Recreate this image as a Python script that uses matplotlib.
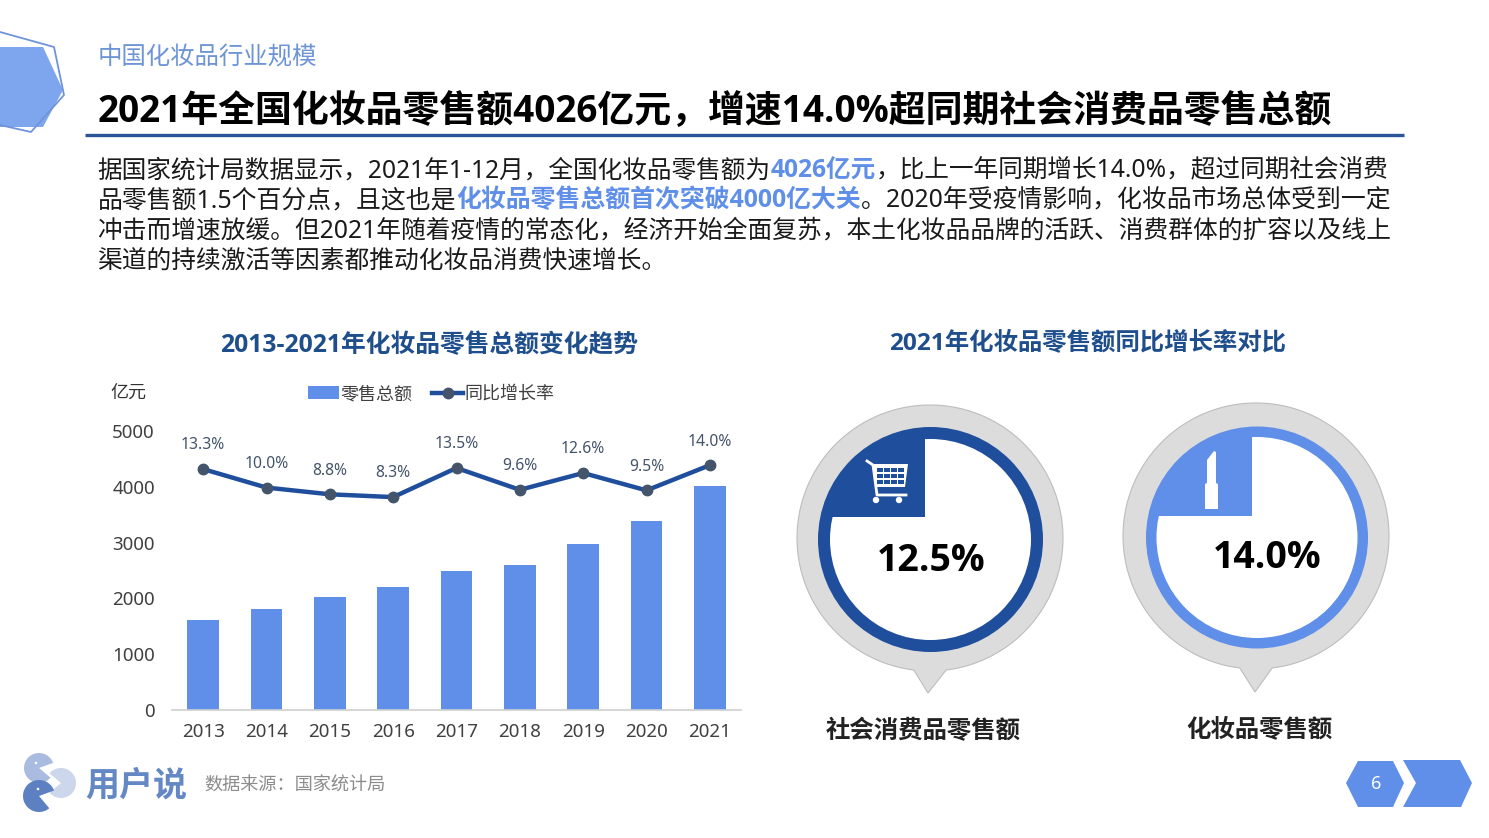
import numpy as np
import matplotlib
matplotlib.use("Agg")
import matplotlib.pyplot as plt
from matplotlib.patches import Circle, Polygon, Rectangle, Wedge
from matplotlib.lines import Line2D

REG = ['Noto Sans', 'Noto Sans CJK SC', 'DejaVu Sans']
BOLD = ['Open Sans', 'Noto Sans CJK SC', 'DejaVu Sans']
plt.rcParams['font.family'] = REG

years = ['2013', '2014', '2015', '2016', '2017', '2018', '2019', '2020', '2021']
sales = [1610, 1810, 2025, 2205, 2495, 2600, 2975, 3380, 4015]
growth = [13.3, 10.0, 8.8, 8.3, 13.5, 9.6, 12.6, 9.5, 14.0]
yticks = [0, 1000, 2000, 3000, 4000, 5000]

section = '中国化妆品行业规模'
headline = '2021年全国化妆品零售额4026亿元，增速14.0%超同期社会消费品零售总额'
body = [
    [('据国家统计局数据显示，2021年1-12月，全国化妆品零售额为', 0), ('4026亿元', 1),
     ('，比上一年同期增长14.0%，超过同期社会消费', 0)],
    [('品零售额1.5个百分点，且这也是', 0), ('化妆品零售总额首次突破4000亿大关', 1),
     ('。2020年受疫情影响，化妆品市场总体受到一定', 0)],
    [('冲击而增速放缓。但2021年随着疫情的常态化，经济开始全面复苏，本土化妆品品牌的活跃、消费群体的扩容以及线上', 0)],
    [('渠道的持续激活等因素都推动化妆品消费快速增长。', 0)],
]
body_sizes = [17.76, 17.9, 17.8, 17.8]

BAR = '#5f8fe8'
NAVY = '#1f4e9c'
SLATE = '#44546a'
GREY = '#dcdcdc'

W, H = 1489, 838
fig = plt.figure(figsize=(W / 100, H / 100), dpi=100, facecolor='white')

# full-page layer in pixel coordinates for everything that is not the chart
bg = fig.add_axes([0, 0, 1, 1])
bg.set_xlim(0, W)
bg.set_ylim(H, 0)
bg.axis('off')

def pin_shape(cx, cy, r, tip_x, tip_y):
    # circle with a small pointer at the bottom
    a = np.radians(np.linspace(97, 443, 200))
    pts = [(cx + r * np.cos(t), cy + r * np.sin(t)) for t in a]
    pts.append((tip_x, tip_y))
    return Polygon(pts, closed=True, fc=GREY, ec='#bdbdbd', lw=0.8)

def gauge(cx, cy, r_out, r_in, qx, qy, col):
    bg.add_patch(Circle((cx, cy), r_out, fc=col, ec='none'))
    bg.add_patch(Circle((cx, cy), r_in, fc='white', ec='none'))
    clip = Circle((cx, cy), r_in + 1, transform=bg.transData)
    q = Rectangle((cx - r_in - 2, cy - r_in - 2), qx - cx + r_in + 2, qy - cy + r_in + 2, fc=col, ec='none')
    bg.add_patch(q)
    q.set_clip_path(clip)

def draw_runs(runs, x, y, size):
    r = fig.canvas.get_renderer()
    for s, hi in runs:
        t = bg.text(x, y, s, fontsize=size, va='center', ha='left',
                    color=BAR if hi else '#1a1a1a',
                    family=BOLD if hi else REG, fontweight='bold' if hi else 'normal')
        x += t.get_window_extent(r).width

# corner hexagons
bg.add_patch(Polygon([(0, 47), (43, 47), (63, 90), (43, 127), (0, 127)], fc='#7ea6ee', ec='none'))
bg.plot([0, 54, 64, 31, 0], [32, 47, 95, 132, 125], color='#6f94d8', lw=1.3)

# header
bg.text(97.5, 58, section, fontsize=17.6, color='#6c94d6', va='center')
bg.text(97.5, 112, headline, fontsize=26.6, color='black', family=BOLD, fontweight='bold', va='center')
bg.plot([85, 1404], [135, 135], color='#2a5599', lw=2.4, solid_capstyle='butt')
for i, runs in enumerate(body):
    draw_runs(runs, 97.5, 171 + i * 30, body_sizes[i])

# chart titles
bg.text(429, 346, '2013-2021年化妆品零售总额变化趋势', fontsize=17.85, color='#1f4e8c', family=BOLD, fontweight='bold', ha='center', va='center')
bg.text(1088, 343, '2021年化妆品零售额同比增长率对比', fontsize=17.6, color='#1f4e8c', family=BOLD, fontweight='bold', ha='center', va='center')
bg.text(128, 393, '亿元', fontsize=13, color='#333333', ha='center', va='center')

# left gauge
bg.add_patch(pin_shape(930, 538, 133, 928, 693))
gauge(930.5, 539.5, 112.5, 100.5, 925, 517, NAVY)
bg.text(931, 561, '12.5%', fontsize=27, family=BOLD, fontweight='bold', color='black', ha='center', va='center')
bg.text(923, 732, '社会消费品零售额', fontsize=17.6, family=BOLD, fontweight='bold', color='#222222', ha='center', va='center')

# cart icon
bg.plot([867, 873, 877, 906], [461, 465, 495, 495], color='white', lw=2)
bg.add_patch(Polygon([(873, 464), (908, 464), (905, 487), (876, 487)], fc='white', ec='none'))
for gx in [877, 884, 891, 898]:
    for gy in [468, 474, 480]:
        bg.add_patch(Rectangle((gx, gy), 5.5, 4, fc=NAVY, ec='none'))
bg.add_patch(Circle((876, 500), 3.2, fc='white', ec='none'))
bg.add_patch(Circle((899, 500), 3.2, fc='white', ec='none'))

# right gauge
bg.add_patch(pin_shape(1256, 536, 133, 1255, 692))
gauge(1257, 537.5, 111, 100.5, 1252, 516, BAR)
bg.text(1267, 558, '14.0%', fontsize=27, family=BOLD, fontweight='bold', color='black', ha='center', va='center')
bg.text(1259, 730, '化妆品零售额', fontsize=17.6, family=BOLD, fontweight='bold', color='#222222', ha='center', va='center')

# lipstick icon
bg.add_patch(Polygon([(1207, 460), (1214, 451), (1216, 452), (1216, 483), (1218, 484), (1218, 509),
                      (1205, 509), (1205, 484), (1207, 483)], fc='white', ec='none'))

# footer logo
bg.add_patch(Wedge((39, 768), 15, 40, 340, fc='#a9bcdf', ec='none'))
bg.add_patch(Wedge((61, 783), 15, 220, 500, fc='#ccd7ec', ec='none'))
bg.add_patch(Wedge((39, 796), 16, 50, 340, fc='#5c80c2', ec='none'))
bg.add_patch(Circle((36, 763), 1.3, fc='white', ec='none'))
bg.add_patch(Circle((38, 789), 1.3, fc='white', ec='none'))
bg.text(85, 787, '用户说', fontsize=24.5, family=BOLD, fontweight='bold', color='#6488c4', va='center')
bg.text(204, 786, '数据来源：国家统计局', fontsize=13.1, color='#8c8c8c', va='center')

# page number hexagons
bg.add_patch(Polygon([(1346, 783), (1358, 761), (1393, 761), (1404, 783), (1393, 807), (1358, 807)], fc=BAR, ec='none'))
bg.add_patch(Polygon([(1403, 760), (1460, 760), (1472, 783), (1461, 807), (1403, 807), (1416, 783)], fc=BAR, ec='none'))
bg.text(1376, 784, '6', fontsize=13, color='white', ha='center', va='center')

# the chart itself
ax = fig.add_axes([171.5 / W, 1 - 710 / H, 570 / W, 279 / H])
ax.patch.set_alpha(0)
xpos = np.arange(len(years))
ax.bar(xpos, sales, width=0.505, color=BAR, zorder=2)
ax.set_xlim(-0.5, len(years) - 0.5)
ax.set_ylim(0, 5000)
ax.set_xticks(xpos, years)
ax.set_yticks(yticks)
ax.tick_params(length=0, labelsize=13.5, labelcolor='#404040')
ax.tick_params(axis='x', pad=9)
ax.tick_params(axis='y', pad=12)
for s in ['top', 'right', 'left']:
    ax.spines[s].set_visible(False)
ax.spines['bottom'].set_color('#d0d0d0')
ax.spines['bottom'].set_linewidth(1.2)

ax2 = ax.twinx()
ax2.set_ylim(-29.7, 20.1)
ax2.axis('off')
ax2.plot(xpos, growth, color=NAVY, lw=3.2, marker='o', ms=7.5, mfc=SLATE, mec=SLATE, zorder=3)
for x, g in zip(xpos, growth):
    ax2.annotate(f'{g:.1f}%', (x, g), xytext=(0, 17), textcoords='offset points',
                 ha='center', va='center', fontsize=11.3, color=SLATE)

handles = [Rectangle((0, 0), 1, 1, fc=BAR, ec='none'),
           Line2D([0], [0], color=NAVY, lw=3.2, marker='o', ms=7.5, mfc=SLATE, mec=SLATE)]
fig.legend(handles, ['零售总额', '同比增长率'], loc='center', bbox_to_anchor=(431.5 / W, 1 - 394 / H),
           ncol=2, frameon=False, fontsize=13, handlelength=1.7, handleheight=0.7,
           handletextpad=0.1, columnspacing=1.1, labelcolor='#404040')

fig.savefig('out.png', dpi=100)
